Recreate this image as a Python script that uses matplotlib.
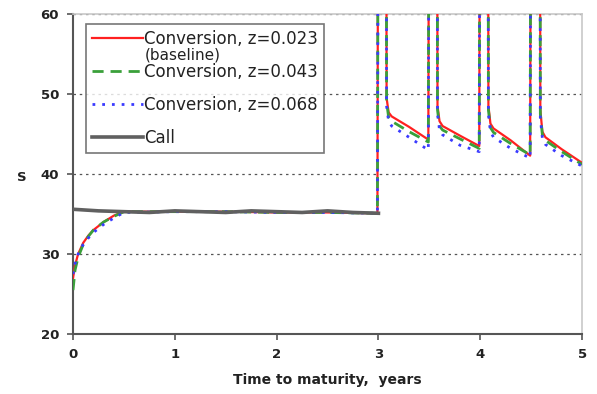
import numpy as np
import matplotlib.pyplot as plt

# time grid for the conversion values (years to maturity)
t_conv = [0.0, 0.02, 0.05, 0.1, 0.15, 0.2, 0.3, 0.4, 0.5, 1.0, 1.5, 2.0, 2.5, 2.99,
          3.0, 3.075, 3.08, 3.1, 3.13, 3.3, 3.49,
          3.5, 3.575, 3.58, 3.6, 3.63, 3.8, 3.99,
          4.0, 4.075, 4.08, 4.1, 4.13, 4.3, 4.49,
          4.5, 4.585, 4.59, 4.61, 4.64, 4.8, 5.0]

conv_023 = [27.0, 28.6, 30.0, 31.4, 32.3, 33.0, 34.0, 34.8, 35.3, 35.3, 35.3, 35.2, 35.2, 35.1,
            100, 100, 49.5, 47.7, 47.2, 45.9, 44.3,
            100, 100, 48.5, 46.6, 46.0, 44.8, 43.5,
            100, 100, 48.5, 46.3, 45.7, 44.2, 42.3,
            100, 100, 48.0, 45.3, 44.6, 43.1, 41.4]
conv_043 = [25.5, 28.0, 29.6, 31.2, 32.2, 33.0, 34.0, 34.7, 35.3, 35.3, 35.3, 35.2, 35.2, 35.1,
            100, 100, 49.0, 47.1, 46.6, 45.3, 44.0,
            100, 100, 48.0, 46.0, 45.5, 44.4, 43.2,
            100, 100, 48.0, 45.8, 45.2, 43.8, 42.4,
            100, 100, 47.5, 44.9, 44.2, 42.8, 41.2]
conv_068 = [27.5, 28.8, 30.0, 31.2, 32.0, 32.7, 33.7, 34.5, 35.2, 35.3, 35.3, 35.2, 35.2, 35.1,
            100, 100, 48.5, 46.6, 46.0, 44.6, 43.0,
            100, 100, 47.5, 45.5, 44.9, 43.6, 42.8,
            100, 100, 47.5, 45.3, 44.6, 43.2, 42.0,
            100, 100, 47.0, 44.5, 43.7, 42.3, 41.0]

t_call = [0.0, 0.25, 0.5, 0.75, 1.0, 1.25, 1.5, 1.75, 2.0, 2.25, 2.5, 2.75, 3.0]
call = [35.6, 35.4, 35.3, 35.2, 35.4, 35.3, 35.2, 35.4, 35.3, 35.2, 35.4, 35.2, 35.1]

fig = plt.figure(figsize=(5.97, 3.94), dpi=100)
ax = fig.add_axes([0.1223, 0.152, 0.8527, 0.8125])

ax.plot(t_conv, conv_023, color="#ff2020", lw=1.6, label="Conversion, z=0.023", zorder=3)
ax.plot(t_conv, conv_043, color="#3aa03a", lw=2.0, ls=(0, (4, 2.5)), label="Conversion, z=0.043", zorder=3)
ax.plot(t_conv, conv_068, color="#3a3aff", lw=2.0, ls=(0, (1, 2.5)), label="Conversion, z=0.068", zorder=3)
ax.plot(t_call, call, color="#606060", lw=2.6, label="Call", zorder=4)

ax.set_xlim(0, 5)
ax.set_ylim(20, 60)
ax.set_xticks(range(0, 6))
ax.set_yticks(range(20, 61, 10))
ax.yaxis.grid(True, ls=(0, (2, 3)), color="#555555", lw=0.9)
ax.set_axisbelow(True)

for s in ["left", "bottom"]:
    ax.spines[s].set_color("#555555")
    ax.spines[s].set_linewidth(1.5)
for s in ["top", "right"]:
    ax.spines[s].set_color("#c8c8c8")
    ax.spines[s].set_linewidth(1.2)

ax.tick_params(direction="out", length=4, width=1.2, color="#555555", labelsize=9.5, pad=6)
for lab in ax.get_xticklabels() + ax.get_yticklabels():
    lab.set_fontweight("bold")
    lab.set_color("#222222")

ax.set_xlabel("Time to maturity,  years", fontsize=10, fontweight="bold", color="#222222", labelpad=0)
ax.xaxis.set_label_coords(0.5, -0.122)
ax.set_ylabel("S", fontsize=9.5, fontweight="bold", rotation=0, color="#222222")
ax.yaxis.set_label_coords(-0.1, 0.47)

leg = ax.legend(loc="upper left", bbox_to_anchor=(0.0255, 0.969), fontsize=12, frameon=True,
                fancybox=False, edgecolor="#555555", handlelength=3.1, handletextpad=0.05,
                labelspacing=0.9, borderpad=0.35, borderaxespad=0)
leg.get_frame().set_linewidth(1.2)
for txt in leg.get_texts():
    txt.set_color("#222222")

# second line of the baseline label, squeezed in under the first entry
fig.canvas.draw()
bb = leg.get_texts()[0].get_window_extent()
fig.text(bb.x0 / fig.bbox.width, bb.y0 / fig.bbox.height, "(baseline)",
         fontsize=11, color="#222222", ha="left", va="top", zorder=5)

fig.savefig("out.png", dpi=100)
